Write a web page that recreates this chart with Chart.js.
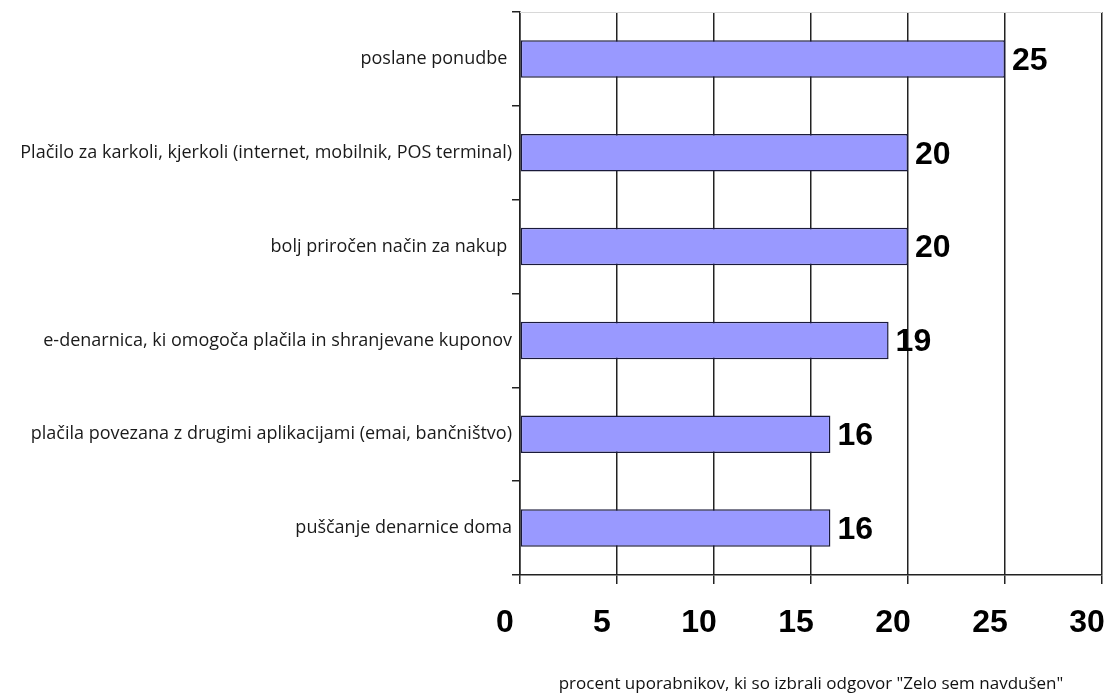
<!DOCTYPE html>
<html>
<head>
<meta charset="utf-8">
<script src="https://cdn.jsdelivr.net/npm/chart.js@4"></script>
<style>
    html, body { margin: 0; padding: 0; background: #ffffff; }
    canvas { display: block; }
</style>
</head>
<body>
<canvas id="chart" width="1108" height="694"></canvas>
<script>
// Chart data
const categories = [
    "poslane ponudbe ",
    "Plačilo za karkoli, kjerkoli (internet, mobilnik, POS terminal)",
    "bolj priročen način za nakup ",
    "e-denarnica, ki omogoča plačila in shranjevane kuponov",
    "plačila povezana z drugimi aplikacijami (emai, bančništvo)",
    "puščanje denarnice doma"
];
const values = [25, 20, 20, 19, 16, 16];
const xTicks = [0, 5, 10, 15, 20, 25, 30];
const xTitle = 'procent uporabnikov, ki so izbrali odgovor "Zelo sem navdušen"';

// Draw value labels right of each bar
const valueLabels = {
    id: 'valueLabels',
    afterDatasetsDraw(chart) {
        const ctx = chart.ctx;
        const meta = chart.getDatasetMeta(0);
        ctx.save();
        ctx.font = 'bold 32px "Liberation Sans", Arial, sans-serif';
        ctx.fillStyle = '#000000';
        ctx.textAlign = 'left';
        ctx.textBaseline = 'middle';
        meta.data.forEach((bar, i) => {
            ctx.fillText(String(values[i]), bar.x + 7, bar.y + 2);
        });
        ctx.restore();
    }
};

// Faint top border line
const topLine = {
    id: 'topLine',
    beforeDatasetsDraw(chart) {
        const { ctx, chartArea } = chart;
        ctx.save();
        ctx.strokeStyle = '#d8d8d8';
        ctx.lineWidth = 1;
        ctx.beginPath();
        ctx.moveTo(chartArea.left, chartArea.top + 0.5);
        ctx.lineTo(chartArea.right, chartArea.top + 0.5);
        ctx.stroke();
        ctx.restore();
    }
};

new Chart(document.getElementById('chart'), {
    type: 'bar',
    data: {
        labels: categories,
        datasets: [{
            data: values,
            backgroundColor: '#9999ff',
            borderColor: '#1a1a3a',
            borderWidth: 1.5,
            borderSkipped: false,
            barPercentage: 0.4,
            categoryPercentage: 1.0
        }]
    },
    options: {
        indexAxis: 'y',
        responsive: false,
        animation: false,
        devicePixelRatio: 1,
        layout: { padding: { top: 12, right: 6, left: 0, bottom: 0 } },
        plugins: {
            legend: { display: false },
            tooltip: { enabled: false }
        },
        scales: {
            x: {
                min: 0,
                max: 30,
                afterBuildTicks(scale) {
                    scale.ticks = xTicks.map(v => ({ value: v }));
                },
                afterFit(scale) {
                    scale.height = 694 - 575;
                    scale.paddingRight = 0;
                    scale.paddingLeft = 0;
                },
                border: { display: true, color: '#222222', width: 1.5 },
                grid: {
                    color: '#222222',
                    lineWidth: 1.5,
                    drawTicks: true,
                    tickLength: 9,
                    tickColor: '#222222'
                },
                ticks: {
                    color: '#000000',
                    padding: 20,
                    labelOffset: -15,
                    maxRotation: 0,
                    font: { family: '"Liberation Sans", Arial, sans-serif', size: 32, weight: 'bold' }
                },
                title: {
                    display: true,
                    text: xTitle,
                    color: '#111111',
                    padding: { top: 23, bottom: 0 },
                    font: { family: '"Open Sans", sans-serif', size: 17 }
                }
            },
            y: {
                afterFit(scale) { scale.width = 520; },
                border: { display: true, color: '#222222', width: 1.5 },
                grid: {
                    offset: true,
                    drawOnChartArea: false,
                    drawTicks: true,
                    tickLength: 8,
                    tickColor: '#222222',
                    lineWidth: 1.5
                },
                ticks: {
                    color: '#1a1a1a',
                    padding: 0,
                    font: { family: '"Open Sans", sans-serif', size: 18 }
                }
            }
        }
    },
    plugins: [valueLabels, topLine]
});
</script>
</body>
</html>
